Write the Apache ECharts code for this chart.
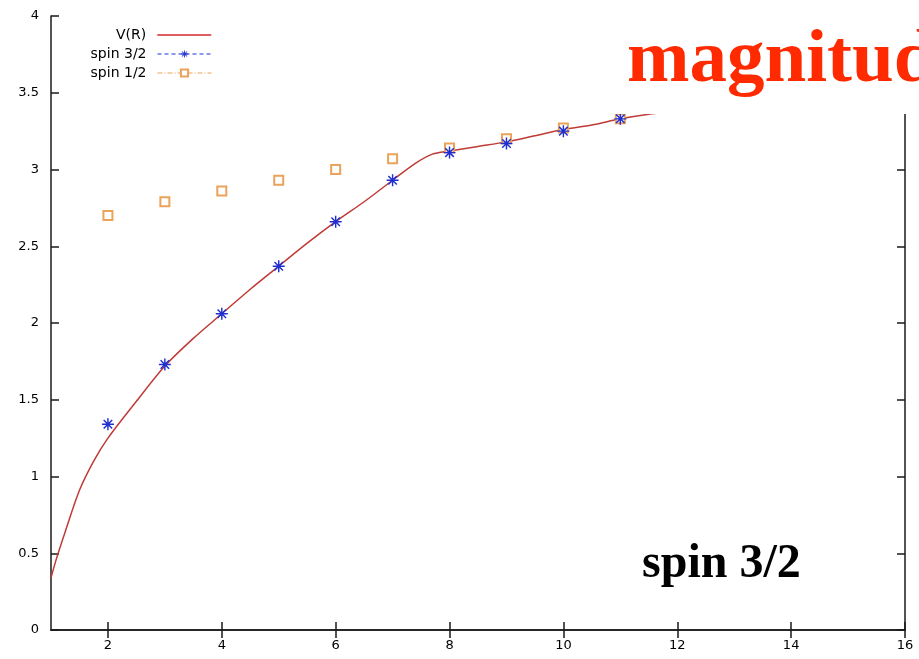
<!DOCTYPE html>
<html>
<head>
<meta charset="utf-8">
<script src="https://cdn.jsdelivr.net/npm/echarts@6/dist/echarts.min.js"></script>
<style>
  html, body { margin: 0; padding: 0; background: #fff; }
  #chart { width: 919px; height: 659px; }
</style>
</head>
<body>
<div id="chart"></div>
<script>
// V(R) curve
var vrX = [1, 1.1, 1.25, 1.5, 1.75, 2, 2.5, 3, 3.5, 4, 4.5, 5, 5.5, 6, 6.5, 7, 7.4, 7.7, 8, 8.5, 9, 9.5, 10, 10.5, 11, 11.5, 12, 13, 14, 15, 16];
var vrY = [0.34, 0.47, 0.64, 0.91, 1.10, 1.25, 1.49, 1.72, 1.90, 2.06, 2.22, 2.37, 2.52, 2.66, 2.79, 2.93, 3.04, 3.10, 3.12, 3.15, 3.18, 3.22, 3.26, 3.29, 3.33, 3.36, 3.38, 3.43, 3.48, 3.52, 3.56];

// lattice points
var spinX = [2, 3, 4, 5, 6, 7, 8, 9, 10, 11];
var spin32 = [1.34, 1.73, 2.06, 2.37, 2.66, 2.93, 3.11, 3.17, 3.25, 3.33];
var spin12 = [2.70, 2.79, 2.86, 2.93, 3.00, 3.07, 3.14, 3.20, 3.27, 3.33];

var xTicks = [2, 4, 6, 8, 10, 12, 14, 16];

var pair = function (xs, ys) { return xs.map(function (x, i) { return [x, ys[i]]; }); };

var starPath = 'path://M2 10.8L22 10.8L22 13.2L2 13.2Z M10.8 2L13.2 2L13.2 22L10.8 22Z ' +
  'M4.05 5.75L5.75 4.05L19.95 18.25L18.25 19.95Z M18.25 4.05L19.95 5.75L5.75 19.95L4.05 18.25Z';

var axisCol = '#1a1a1a';
var labelFont = { color: '#000', fontSize: 13, fontFamily: 'DejaVu Sans' };

var chart = echarts.init(document.getElementById('chart'));

var legendBase = function (name, top, extra) {
  return {
    orient: 'vertical',
    right: 702,
    top: top,
    align: 'right',
    itemWidth: 54,
    itemHeight: 9,
    textStyle: { color: '#000', fontSize: 14, fontFamily: 'DejaVu Sans', padding: [0, 6, 0, 0] },
    data: [Object.assign({ name: name }, extra)]
  };
};

chart.setOption({
  backgroundColor: '#fff',
  animation: false,
  grid: { left: 51, right: 14, top: 16, bottom: 29 },
  legend: [
    legendBase('V(R)', 23, { lineStyle: { color: '#d42a2a', width: 1.5 }, itemStyle: { opacity: 0 } }),
    legendBase('spin 3/2', 42, { lineStyle: { opacity: 1, type: [4, 3], width: 1, color: '#1f2fd0' } }),
    legendBase('spin 1/2', 61, { lineStyle: { opacity: 1, type: [5, 2, 1, 2], width: 1, color: '#eba25a' } })
  ],
  xAxis: [
    {
      type: 'value', min: 1, max: 16, position: 'bottom',
      axisLine: { lineStyle: { color: axisCol, width: 1.5 } },
      axisTick: { inside: true, length: 8, customValues: xTicks, lineStyle: { color: axisCol, width: 1.5 } },
      axisLabel: Object.assign({ customValues: xTicks, margin: 9 }, labelFont),
      splitLine: { show: false }
    },
    {
      type: 'value', min: 1, max: 16, position: 'top',
      axisLine: { lineStyle: { color: axisCol, width: 1.5 } },
      axisTick: { inside: true, length: 8, customValues: xTicks, lineStyle: { color: axisCol, width: 1.5 } },
      axisLabel: { show: false },
      splitLine: { show: false }
    }
  ],
  yAxis: [
    {
      type: 'value', min: 0, max: 4, interval: 0.5, position: 'left',
      axisLine: { show: true, lineStyle: { color: axisCol, width: 1.5 } },
      axisTick: { show: true, inside: true, length: 8, lineStyle: { color: axisCol, width: 1.5 } },
      axisLabel: Object.assign({ margin: 12 }, labelFont),
      splitLine: { show: false }
    },
    {
      type: 'value', min: 0, max: 4, interval: 0.5, position: 'right',
      axisLine: { show: true, lineStyle: { color: axisCol, width: 1.5 } },
      axisTick: { show: true, inside: true, length: 8, lineStyle: { color: axisCol, width: 1.5 } },
      axisLabel: { show: false },
      splitLine: { show: false }
    }
  ],
  series: [
    {
      name: 'V(R)', type: 'line', data: pair(vrX, vrY),
      smooth: 0.3, symbol: 'none',
      lineStyle: { color: '#c03a36', width: 1.5 }, itemStyle: { color: '#c03a36' }
    },
    {
      name: 'spin 3/2', type: 'line', data: pair(spinX, spin32),
      symbol: starPath, symbolSize: 12, showAllSymbol: true,
      lineStyle: { opacity: 0 }, itemStyle: { color: '#1f2fd0' }, z: 4
    },
    {
      name: 'spin 1/2', type: 'line', data: pair(spinX, spin12),
      symbol: 'emptyRect', symbolSize: 9, showAllSymbol: true,
      lineStyle: { opacity: 0 }, itemStyle: { color: '#eba25a', borderWidth: 1.5 }, z: 3
    }
  ],
  graphic: [
    { type: 'rect', z: 100, shape: { x: 604, y: 0, width: 315, height: 114 }, style: { fill: '#fff' } },
    {
      type: 'text', z: 101, x: 627, y: 24,
      style: { text: 'magnitude', fill: '#ff2a00', font: 'bold 75px "Liberation Serif"' }
    },
    {
      type: 'text', z: 101, x: 642, y: 541,
      style: { text: 'spin 3/2', fill: '#000', font: 'bold 48px "Liberation Serif"' }
    }
  ]
});
</script>
</body>
</html>
